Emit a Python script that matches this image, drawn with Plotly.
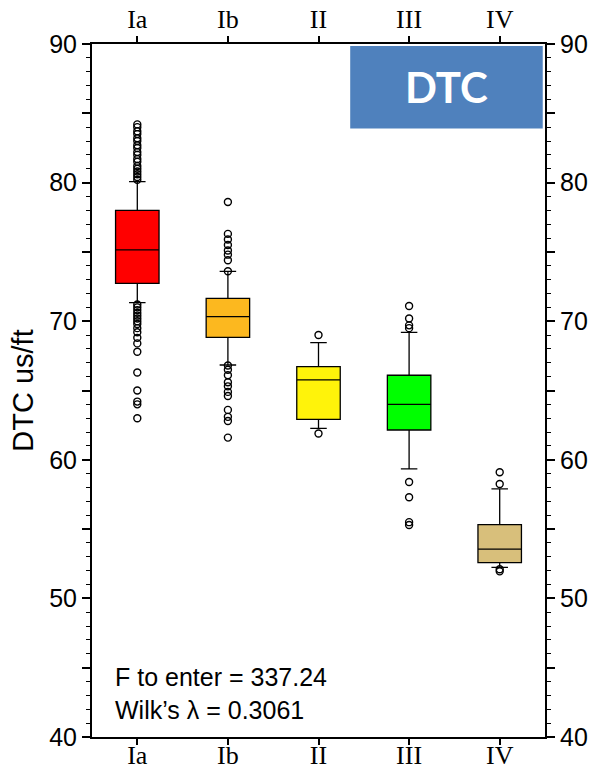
import plotly.graph_objects as go

# Facies groups and their DTC box statistics (us/ft)
groups = ["Ia", "Ib", "II", "III", "IV"]
q1 = [72.73, 68.84, 62.92, 62.15, 52.58]
median = [75.14, 70.33, 65.76, 64.00, 53.56]
q3 = [78.00, 71.65, 66.72, 66.10, 55.32]
lower_fence = [71.34, 66.84, 62.27, 59.34, 52.24]
upper_fence = [80.07, 73.60, 68.45, 69.20, 57.90]
box_colors = ["#FF0000", "#FCB81F", "#FFF30A", "#00FF00", "#D8BF7B"]

# Outlying samples per group
out_Ia = [84.2, 84.0, 83.7, 83.5, 83.2, 83.0, 82.7, 82.5, 82.2, 82.0, 81.7,
          81.5, 81.2, 81.0, 80.8, 80.6, 80.4, 80.2,
          71.2, 71.0, 70.8, 70.6, 70.4, 70.2, 70.0, 69.8, 69.5, 69.2, 68.8,
          68.4, 67.8, 66.3, 65.0, 64.2, 64.0, 63.0]
out_Ib = [78.6, 76.3, 75.9, 75.5, 75.1, 74.8, 74.4, 73.6,
          66.8, 66.5, 66.1, 65.6, 65.3, 64.9, 64.6, 63.6, 63.1, 62.8, 61.6]
out_II = [69.0, 61.9]
out_III = [71.1, 70.2, 69.7, 69.5, 58.4, 57.3, 55.5, 55.3]
out_IV = [59.1, 58.25, 52.1, 51.95]
outliers = [out_Ia, out_Ib, out_II, out_III, out_IV]

y_ticks = list(range(40, 91, 5))
y_ticktext = [str(v) if v % 10 == 0 else "" for v in y_ticks]

SANS = "Liberation Sans, Arial, sans-serif"
SERIF = "Liberation Serif, Times New Roman, serif"

fig = go.Figure()

# Boxes on the bottom/left axes
for g, a, m, b, lo, hi, c in zip(groups, q1, median, q3, lower_fence, upper_fence, box_colors):
    fig.add_trace(go.Box(
        x=[g], q1=[a], median=[m], q3=[b], lowerfence=[lo], upperfence=[hi],
        fillcolor=c, line=dict(color="black", width=1.3),
        width=0.48, whiskerwidth=0.38, boxpoints=False,
        showlegend=False, hoverinfo="skip",
    ))

# Outliers on the top/right axes (same scales), so those axes are drawn too
for g, pts in zip(groups, outliers):
    fig.add_trace(go.Scatter(
        x=[g] * len(pts), y=pts, mode="markers", xaxis="x2", yaxis="y2",
        marker=dict(symbol="circle-open", size=7, color="black",
                    line=dict(width=1.4, color="black")),
        showlegend=False, hoverinfo="skip",
    ))

axis_common = dict(showline=True, linecolor="black", linewidth=2,
                   showgrid=False, zeroline=False, ticks="outside",
                   tickcolor="black", automargin=False)

x_common = dict(**axis_common, type="category", categoryorder="array",
                categoryarray=groups, range=[-0.5, 4.5],
                ticklen=6, tickwidth=1.5,
                tickfont=dict(family=SERIF, size=26, color="black"))

y_common = dict(**axis_common, range=[40, 90], tickmode="array",
                tickvals=y_ticks, ticktext=y_ticktext,
                ticklen=8, tickwidth=1.5,
                minor=dict(ticks="outside", dtick=1, tick0=40, ticklen=4,
                           tickwidth=1, tickcolor="black"),
                tickfont=dict(family=SANS, size=25, color="black"))

fig.update_layout(
    width=594, height=770,
    margin=dict(l=92, r=49, t=44, b=33),
    paper_bgcolor="white", plot_bgcolor="white",
    boxmode="overlay",
    xaxis=dict(**x_common, side="bottom", ticklabelstandoff=-12),
    xaxis2=dict(**x_common, side="top", overlaying="x", ticklabelstandoff=-2),
    yaxis=dict(**y_common, side="left",
               title=dict(text="DTC us/ft", standoff=7,
                          font=dict(family=SANS, size=29, color="black"))),
    yaxis2=dict(**y_common, side="right", overlaying="y"),
)

# Log label panel
fig.add_shape(type="rect", xref="paper", yref="paper",
              x0=0.57, x1=0.995, y0=0.878, y1=0.997,
              fillcolor="#4F81BD", line=dict(width=0), layer="above")
fig.add_annotation(xref="paper", yref="paper", x=0.783, y=0.938,
                   text="<b>DTC</b>", showarrow=False,
                   font=dict(family="Lato, Open Sans, sans-serif", size=42, color="white"),
                   xanchor="center", yanchor="middle")

# Discriminant statistics
fig.add_annotation(xref="paper", yref="paper", x=0.046, y=0.016,
                   text="F to enter = 337.24<br>Wilk’s λ = 0.3061",
                   showarrow=False, align="left", xanchor="left", yanchor="bottom",
                   font=dict(family=SANS, size=25, color="black"))

fig.write_html("out.html")
